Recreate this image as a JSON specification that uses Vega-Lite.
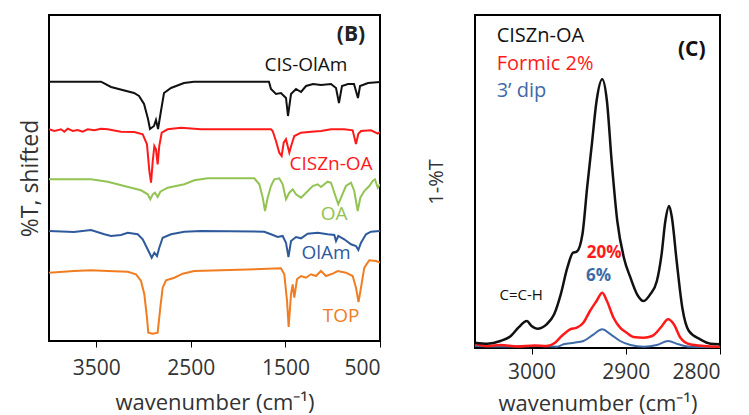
{
  "$schema": "https://vega.github.io/schema/vega-lite/v6.json",
  "padding": {"left": 18, "top": 14, "right": 0, "bottom": 0},
  "spacing": 43,
  "config": {
    "font": "Open Sans",
    "view": {"stroke": "#000", "strokeWidth": 2},
    "axis": {"grid": false, "labelColor": "#333", "titleColor": "#333", "titleFontWeight": "normal", "tickColor": "#000", "domain": false}
  },
  "resolve": {"scale": {"color": "independent"}},
  "hconcat": [
    {
      "width": 331,
      "height": 326,
      "layer": [
        {
          "data": {"values": [
            {"s":"CIS-OlAm","x":4000,"y":259.3},{"s":"CIS-OlAm","x":3450,"y":259.3},{"s":"CIS-OlAm","x":3344,"y":254},{"s":"CIS-OlAm","x":3101,"y":248},{"s":"CIS-OlAm","x":3048,"y":245},{"s":"CIS-OlAm","x":2995,"y":237},{"s":"CIS-OlAm","x":2953,"y":222},{"s":"CIS-OlAm","x":2932,"y":212},{"s":"CIS-OlAm","x":2890,"y":215},{"s":"CIS-OlAm","x":2869,"y":221},{"s":"CIS-OlAm","x":2847,"y":212},{"s":"CIS-OlAm","x":2816,"y":230},{"s":"CIS-OlAm","x":2784,"y":248},{"s":"CIS-OlAm","x":2710,"y":253},{"s":"CIS-OlAm","x":2573,"y":258},{"s":"CIS-OlAm","x":2467,"y":259.3},{"s":"CIS-OlAm","x":1674,"y":259.3},{"s":"CIS-OlAm","x":1653,"y":252},{"s":"CIS-OlAm","x":1600,"y":247},{"s":"CIS-OlAm","x":1547,"y":248},{"s":"CIS-OlAm","x":1494,"y":243},{"s":"CIS-OlAm","x":1473,"y":225},{"s":"CIS-OlAm","x":1441,"y":247},{"s":"CIS-OlAm","x":1388,"y":252},{"s":"CIS-OlAm","x":1335,"y":249},{"s":"CIS-OlAm","x":1282,"y":255},{"s":"CIS-OlAm","x":1208,"y":257},{"s":"CIS-OlAm","x":1124,"y":256},{"s":"CIS-OlAm","x":1018,"y":257},{"s":"CIS-OlAm","x":965,"y":253},{"s":"CIS-OlAm","x":934,"y":238},{"s":"CIS-OlAm","x":902,"y":255},{"s":"CIS-OlAm","x":838,"y":257},{"s":"CIS-OlAm","x":775,"y":257},{"s":"CIS-OlAm","x":733,"y":243},{"s":"CIS-OlAm","x":711,"y":255},{"s":"CIS-OlAm","x":627,"y":258},{"s":"CIS-OlAm","x":500,"y":259},
            {"s":"CISZn-OA","x":4000,"y":211.7},{"s":"CISZn-OA","x":3944,"y":210},{"s":"CISZn-OA","x":3873,"y":211.7},{"s":"CISZn-OA","x":3838,"y":209.3},{"s":"CISZn-OA","x":3802,"y":212.3},{"s":"CISZn-OA","x":3749,"y":210},{"s":"CISZn-OA","x":3697,"y":211},{"s":"CISZn-OA","x":3644,"y":209.3},{"s":"CISZn-OA","x":3591,"y":211.7},{"s":"CISZn-OA","x":3521,"y":210.7},{"s":"CISZn-OA","x":3450,"y":212.3},{"s":"CISZn-OA","x":3379,"y":211.7},{"s":"CISZn-OA","x":3239,"y":209.3},{"s":"CISZn-OA","x":3098,"y":209},{"s":"CISZn-OA","x":3009,"y":206.7},{"s":"CISZn-OA","x":2964,"y":196.7},{"s":"CISZn-OA","x":2939,"y":170},{"s":"CISZn-OA","x":2921,"y":158.3},{"s":"CISZn-OA","x":2903,"y":180},{"s":"CISZn-OA","x":2886,"y":195},{"s":"CISZn-OA","x":2869,"y":191.7},{"s":"CISZn-OA","x":2851,"y":176.7},{"s":"CISZn-OA","x":2834,"y":195},{"s":"CISZn-OA","x":2808,"y":208.3},{"s":"CISZn-OA","x":2745,"y":211.7},{"s":"CISZn-OA","x":2604,"y":213.3},{"s":"CISZn-OA","x":2393,"y":211.7},{"s":"CISZn-OA","x":1653,"y":211.7},{"s":"CISZn-OA","x":1635,"y":210},{"s":"CISZn-OA","x":1600,"y":200},{"s":"CISZn-OA","x":1565,"y":188.3},{"s":"CISZn-OA","x":1540,"y":185},{"s":"CISZn-OA","x":1518,"y":198.3},{"s":"CISZn-OA","x":1494,"y":201.7},{"s":"CISZn-OA","x":1459,"y":188.3},{"s":"CISZn-OA","x":1434,"y":196.7},{"s":"CISZn-OA","x":1406,"y":205},{"s":"CISZn-OA","x":1335,"y":208.3},{"s":"CISZn-OA","x":1230,"y":209.3},{"s":"CISZn-OA","x":1124,"y":210},{"s":"CISZn-OA","x":1018,"y":211.7},{"s":"CISZn-OA","x":878,"y":211.7},{"s":"CISZn-OA","x":789,"y":210.7},{"s":"CISZn-OA","x":754,"y":197},{"s":"CISZn-OA","x":729,"y":207.3},{"s":"CISZn-OA","x":701,"y":210},{"s":"CISZn-OA","x":595,"y":210.7},{"s":"CISZn-OA","x":524,"y":207.3},{"s":"CISZn-OA","x":500,"y":209},
            {"s":"OA","x":4000,"y":161.7},{"s":"OA","x":3556,"y":161.7},{"s":"OA","x":3379,"y":159.3},{"s":"OA","x":3204,"y":155},{"s":"OA","x":3027,"y":150.7},{"s":"OA","x":2956,"y":146.7},{"s":"OA","x":2929,"y":141.7},{"s":"OA","x":2903,"y":146.7},{"s":"OA","x":2879,"y":148.3},{"s":"OA","x":2851,"y":144},{"s":"OA","x":2823,"y":149.3},{"s":"OA","x":2745,"y":153.3},{"s":"OA","x":2569,"y":156.7},{"s":"OA","x":2464,"y":160.7},{"s":"OA","x":2322,"y":162.7},{"s":"OA","x":1829,"y":162.7},{"s":"OA","x":1776,"y":156.7},{"s":"OA","x":1740,"y":143.3},{"s":"OA","x":1716,"y":130},{"s":"OA","x":1688,"y":143.3},{"s":"OA","x":1653,"y":155},{"s":"OA","x":1618,"y":161.7},{"s":"OA","x":1565,"y":162.7},{"s":"OA","x":1529,"y":156.7},{"s":"OA","x":1494,"y":141.7},{"s":"OA","x":1459,"y":148.3},{"s":"OA","x":1423,"y":151.7},{"s":"OA","x":1388,"y":146.7},{"s":"OA","x":1335,"y":143.3},{"s":"OA","x":1282,"y":148.3},{"s":"OA","x":1212,"y":155},{"s":"OA","x":1159,"y":156.7},{"s":"OA","x":1124,"y":154},{"s":"OA","x":1089,"y":156.7},{"s":"OA","x":1053,"y":159.3},{"s":"OA","x":1018,"y":158.3},{"s":"OA","x":965,"y":143.3},{"s":"OA","x":941,"y":136.7},{"s":"OA","x":912,"y":143.3},{"s":"OA","x":860,"y":155},{"s":"OA","x":807,"y":158.3},{"s":"OA","x":772,"y":150},{"s":"OA","x":736,"y":130},{"s":"OA","x":708,"y":143.3},{"s":"OA","x":666,"y":150},{"s":"OA","x":613,"y":155},{"s":"OA","x":577,"y":160},{"s":"OA","x":553,"y":161.7},{"s":"OA","x":524,"y":153.3},{"s":"OA","x":500,"y":157},
            {"s":"OlAm","x":4000,"y":110},{"s":"OlAm","x":3736,"y":109},{"s":"OlAm","x":3556,"y":111},{"s":"OlAm","x":3415,"y":106.7},{"s":"OlAm","x":3344,"y":105},{"s":"OlAm","x":3239,"y":106},{"s":"OlAm","x":3168,"y":108.3},{"s":"OlAm","x":3062,"y":106.7},{"s":"OlAm","x":3009,"y":101.7},{"s":"OlAm","x":2974,"y":95},{"s":"OlAm","x":2939,"y":88.3},{"s":"OlAm","x":2914,"y":83.3},{"s":"OlAm","x":2886,"y":88.3},{"s":"OlAm","x":2858,"y":85},{"s":"OlAm","x":2834,"y":93.3},{"s":"OlAm","x":2798,"y":103.3},{"s":"OlAm","x":2710,"y":106.7},{"s":"OlAm","x":2569,"y":109.3},{"s":"OlAm","x":2393,"y":110},{"s":"OlAm","x":1723,"y":109.3},{"s":"OlAm","x":1653,"y":106.7},{"s":"OlAm","x":1582,"y":104},{"s":"OlAm","x":1529,"y":105},{"s":"OlAm","x":1494,"y":98.3},{"s":"OlAm","x":1468,"y":84},{"s":"OlAm","x":1441,"y":100},{"s":"OlAm","x":1388,"y":104},{"s":"OlAm","x":1335,"y":102.7},{"s":"OlAm","x":1265,"y":107.3},{"s":"OlAm","x":1159,"y":108.3},{"s":"OlAm","x":1053,"y":106.7},{"s":"OlAm","x":983,"y":106},{"s":"OlAm","x":965,"y":100},{"s":"OlAm","x":941,"y":105},{"s":"OlAm","x":878,"y":101.7},{"s":"OlAm","x":807,"y":96.7},{"s":"OlAm","x":754,"y":95},{"s":"OlAm","x":729,"y":91},{"s":"OlAm","x":701,"y":98.3},{"s":"OlAm","x":648,"y":106.7},{"s":"OlAm","x":595,"y":109.3},{"s":"OlAm","x":500,"y":110},
            {"s":"TOP","x":4000,"y":68.3},{"s":"TOP","x":3736,"y":70},{"s":"TOP","x":3556,"y":70.7},{"s":"TOP","x":3379,"y":70},{"s":"TOP","x":3168,"y":69.3},{"s":"TOP","x":3080,"y":66.7},{"s":"TOP","x":3027,"y":60},{"s":"TOP","x":2992,"y":46.7},{"s":"TOP","x":2964,"y":23.3},{"s":"TOP","x":2950,"y":8.3},{"s":"TOP","x":2903,"y":7.3},{"s":"TOP","x":2851,"y":8.3},{"s":"TOP","x":2823,"y":33.3},{"s":"TOP","x":2798,"y":53.3},{"s":"TOP","x":2763,"y":60.7},{"s":"TOP","x":2675,"y":63.3},{"s":"TOP","x":2586,"y":67.3},{"s":"TOP","x":2464,"y":70},{"s":"TOP","x":2181,"y":70.7},{"s":"TOP","x":1547,"y":72.7},{"s":"TOP","x":1512,"y":66.7},{"s":"TOP","x":1483,"y":40},{"s":"TOP","x":1466,"y":14},{"s":"TOP","x":1441,"y":46.7},{"s":"TOP","x":1423,"y":56.7},{"s":"TOP","x":1406,"y":43.3},{"s":"TOP","x":1378,"y":61.7},{"s":"TOP","x":1335,"y":65},{"s":"TOP","x":1282,"y":63.3},{"s":"TOP","x":1230,"y":66.7},{"s":"TOP","x":1177,"y":65},{"s":"TOP","x":1124,"y":70},{"s":"TOP","x":1071,"y":65},{"s":"TOP","x":1000,"y":67.3},{"s":"TOP","x":947,"y":70},{"s":"TOP","x":860,"y":68.3},{"s":"TOP","x":789,"y":65},{"s":"TOP","x":754,"y":53.3},{"s":"TOP","x":727,"y":39},{"s":"TOP","x":701,"y":53.3},{"s":"TOP","x":666,"y":73.3},{"s":"TOP","x":613,"y":80.7},{"s":"TOP","x":542,"y":80},{"s":"TOP","x":500,"y":78.3}
          ]},
          "mark": {"type": "line", "strokeWidth": 2, "clip": true},
          "encoding": {
            "x": {"field": "x", "type": "quantitative", "scale": {"domain": [500, 4000], "reverse": true, "nice": false},
                  "axis": {"values": [3500, 2500, 1500, 500], "format": "d", "title": "wavenumber (cm⁻¹)", "labelFontSize": 21, "titleFontSize": 22, "tickSize": 6, "labelPadding": 10, "titlePadding": 14}},
            "y": {"field": "y", "type": "quantitative", "scale": {"domain": [0, 326], "nice": false},
                  "axis": {"title": "%T, shifted", "labels": false, "ticks": false, "titleFontSize": 23, "titlePadding": 7, "minExtent": 0}},
            "color": {"field": "s", "type": "nominal", "legend": null,
                      "scale": {"domain": ["CIS-OlAm", "CISZn-OA", "OA", "OlAm", "TOP"], "range": ["#111111", "#ff1a1a", "#92c353", "#2e5a9c", "#f07d21"]}}
          }
        },
        {
          "data": {"values": [
            {"s": "CIS-OlAm", "t": "CIS-OlAm", "x": 1283, "y": 276},
            {"s": "CISZn-OA", "t": "CISZn-OA", "x": 1018, "y": 177},
            {"s": "OA", "t": "OA", "x": 986, "y": 127},
            {"s": "OlAm", "t": "OlAm", "x": 1071, "y": 88},
            {"s": "TOP", "t": "TOP", "x": 912, "y": 25}
          ]},
          "mark": {"type": "text", "fontSize": 19, "align": "center", "baseline": "middle"},
          "encoding": {
            "x": {"field": "x", "type": "quantitative"},
            "y": {"field": "y", "type": "quantitative"},
            "text": {"field": "t"},
            "color": {"field": "s", "type": "nominal", "legend": null}
          }
        },
        {
          "data": {"values": [{"t": "(B)", "x": 807, "y": 306}]},
          "mark": {"type": "text", "fontSize": 21, "fontWeight": "bold", "color": "#222", "align": "center", "baseline": "middle"},
          "encoding": {
            "x": {"field": "x", "type": "quantitative"},
            "y": {"field": "y", "type": "quantitative"},
            "text": {"field": "t"}
          }
        }
      ]
    },
    {
      "width": 245,
      "height": 333,
      "data": {"values": [
        {"s":"CISZn-OA","x":3060,"y":5.3},{"s":"CISZn-OA","x":3047,"y":4.3},{"s":"CISZn-OA","x":3033,"y":7},{"s":"CISZn-OA","x":3022,"y":12},{"s":"CISZn-OA","x":3014,"y":20.3},{"s":"CISZn-OA","x":3005,"y":27},{"s":"CISZn-OA","x":3000,"y":22},{"s":"CISZn-OA","x":2994,"y":19.3},{"s":"CISZn-OA","x":2984,"y":23.7},{"s":"CISZn-OA","x":2976,"y":33.7},{"s":"CISZn-OA","x":2969,"y":53.7},{"s":"CISZn-OA","x":2962,"y":80.3},{"s":"CISZn-OA","x":2956,"y":95.3},{"s":"CISZn-OA","x":2952,"y":96.3},{"s":"CISZn-OA","x":2946,"y":113.7},{"s":"CISZn-OA","x":2941,"y":160.3},{"s":"CISZn-OA","x":2936,"y":203.7},{"s":"CISZn-OA","x":2931,"y":247},{"s":"CISZn-OA","x":2925,"y":268.7},{"s":"CISZn-OA","x":2920,"y":247},{"s":"CISZn-OA","x":2915,"y":187},{"s":"CISZn-OA","x":2909,"y":127},{"s":"CISZn-OA","x":2902,"y":90.3},{"s":"CISZn-OA","x":2895,"y":70.3},{"s":"CISZn-OA","x":2888,"y":53.7},{"s":"CISZn-OA","x":2881,"y":47},{"s":"CISZn-OA","x":2874,"y":53.7},{"s":"CISZn-OA","x":2867,"y":67},{"s":"CISZn-OA","x":2862,"y":93.7},{"s":"CISZn-OA","x":2858,"y":127},{"s":"CISZn-OA","x":2854,"y":142},{"s":"CISZn-OA","x":2851,"y":130.3},{"s":"CISZn-OA","x":2846,"y":87},{"s":"CISZn-OA","x":2840,"y":40.3},{"s":"CISZn-OA","x":2833,"y":17},{"s":"CISZn-OA","x":2821,"y":8.7},{"s":"CISZn-OA","x":2810,"y":4.3},{"s":"CISZn-OA","x":2800,"y":3.7},
        {"s":"Formic 2%","x":3060,"y":4.3},{"s":"Formic 2%","x":3047,"y":2},{"s":"Formic 2%","x":3033,"y":3},{"s":"Formic 2%","x":3015,"y":1.5},{"s":"Formic 2%","x":2997,"y":2.5},{"s":"Formic 2%","x":2984,"y":2},{"s":"Formic 2%","x":2975,"y":5.3},{"s":"Formic 2%","x":2968,"y":12},{"s":"Formic 2%","x":2959,"y":18.7},{"s":"Formic 2%","x":2952,"y":20.3},{"s":"Formic 2%","x":2945,"y":25.3},{"s":"Formic 2%","x":2938,"y":37},{"s":"Formic 2%","x":2931,"y":47},{"s":"Formic 2%","x":2925,"y":55.3},{"s":"Formic 2%","x":2920,"y":47},{"s":"Formic 2%","x":2913,"y":30.3},{"s":"Formic 2%","x":2906,"y":20.3},{"s":"Formic 2%","x":2899,"y":15.3},{"s":"Formic 2%","x":2892,"y":11},{"s":"Formic 2%","x":2881,"y":10.3},{"s":"Formic 2%","x":2872,"y":12},{"s":"Formic 2%","x":2863,"y":20.3},{"s":"Formic 2%","x":2855,"y":28.7},{"s":"Formic 2%","x":2849,"y":23.7},{"s":"Formic 2%","x":2842,"y":10.3},{"s":"Formic 2%","x":2832,"y":3.7},{"s":"Formic 2%","x":2817,"y":2},{"s":"Formic 2%","x":2800,"y":1.3},
        {"s":"3’ dip","x":3060,"y":2},{"s":"3’ dip","x":3026,"y":1.5},{"s":"3’ dip","x":2994,"y":2},{"s":"3’ dip","x":2973,"y":1.3},{"s":"3’ dip","x":2966,"y":3.7},{"s":"3’ dip","x":2955,"y":5.3},{"s":"3’ dip","x":2945,"y":7},{"s":"3’ dip","x":2934,"y":13.7},{"s":"3’ dip","x":2925,"y":18.7},{"s":"3’ dip","x":2916,"y":13.7},{"s":"3’ dip","x":2906,"y":7},{"s":"3’ dip","x":2895,"y":3},{"s":"3’ dip","x":2881,"y":1.3},{"s":"3’ dip","x":2867,"y":3},{"s":"3’ dip","x":2855,"y":7},{"s":"3’ dip","x":2844,"y":3.7},{"s":"3’ dip","x":2832,"y":1.3},{"s":"3’ dip","x":2800,"y":1}
      ]},
      "encoding": {
        "x": {"field": "x", "type": "quantitative", "scale": {"domain": [2800, 3060], "reverse": true, "nice": false},
              "axis": {"values": [3000, 2900, 2800], "format": "d", "title": "wavenumber (cm⁻¹)", "labelFontSize": 21, "titleFontSize": 22, "tickSize": 6, "labelPadding": 7, "titlePadding": 11}},
        "y": {"field": "y", "type": "quantitative", "scale": {"domain": [0, 333], "nice": false},
              "axis": {"title": "1-%T", "labels": false, "ticks": false, "titleFontSize": 20, "titlePadding": 29, "minExtent": 0}},
        "color": {"field": "s", "type": "nominal", "legend": null,
                  "scale": {"domain": ["CISZn-OA", "Formic 2%", "3’ dip"], "range": ["#111111", "#ff1a1a", "#3e6aa8"]}}
      },
      "layer": [
        {"transform": [{"filter": "datum.s === '3’ dip'"}], "mark": {"type": "line", "strokeWidth": 2, "interpolate": "monotone"}},
        {"transform": [{"filter": "datum.s === 'Formic 2%'"}], "mark": {"type": "line", "strokeWidth": 2.5, "interpolate": "monotone"}},
        {"transform": [{"filter": "datum.s === 'CISZn-OA'"}], "mark": {"type": "line", "strokeWidth": 2.5, "interpolate": "monotone"}},
        {
          "data": {"values": [
            {"s": "CISZn-OA", "t": "CISZn-OA", "x": 3037, "y": 312},
            {"s": "Formic 2%", "t": "Formic 2%", "x": 3037, "y": 284.5},
            {"s": "3’ dip", "t": "3’ dip", "x": 3037, "y": 257}
          ]},
          "mark": {"type": "text", "fontSize": 20, "align": "left", "baseline": "middle"},
          "encoding": {"text": {"field": "t"}}
        },
        {
          "data": {"values": [{"s": "CISZn-OA", "t": "C=C-H", "x": 3011, "y": 53.5}]},
          "mark": {"type": "text", "fontSize": 15, "align": "center", "baseline": "middle"},
          "encoding": {"text": {"field": "t"}}
        },
        {
          "data": {"values": [
            {"s": "Formic 2%", "t": "20%", "x": 2923, "y": 95.5},
            {"s": "3’ dip", "t": "6%", "x": 2929, "y": 72}
          ]},
          "mark": {"type": "text", "fontSize": 17, "fontWeight": "bold", "align": "center", "baseline": "middle"},
          "encoding": {"text": {"field": "t"}}
        },
        {
          "data": {"values": [{"s": "CISZn-OA", "t": "(C)", "x": 2830, "y": 298}]},
          "mark": {"type": "text", "fontSize": 21, "fontWeight": "bold", "align": "center", "baseline": "middle"},
          "encoding": {"text": {"field": "t"}}
        }
      ]
    }
  ]
}
